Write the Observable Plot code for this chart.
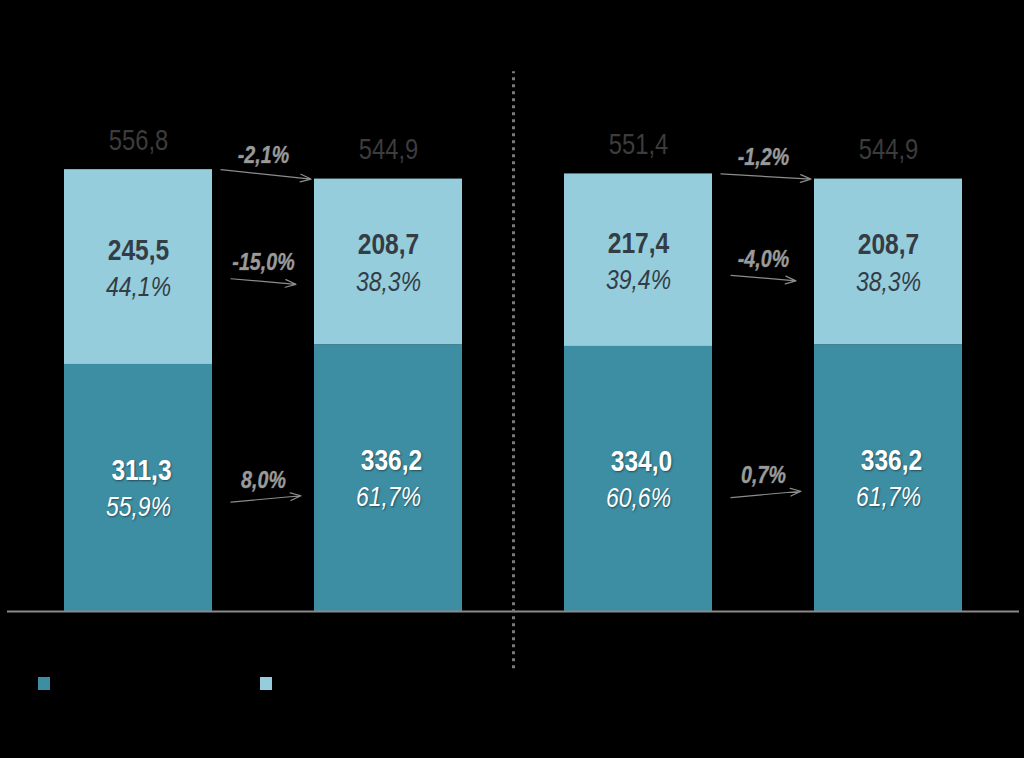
<!DOCTYPE html>
<html>
<head>
<meta charset="utf-8">
<script src="https://cdn.jsdelivr.net/npm/d3@7"></script>
<script src="https://cdn.jsdelivr.net/npm/@observablehq/plot@0.6"></script>
<style>
  html, body { margin: 0; padding: 0; background: #000; }
  #wrap { position: relative; width: 1024px; height: 758px; overflow: hidden; }
  .sw { position: absolute; width: 12px; height: 13px; top: 677px; }
</style>
</head>
<body>
<div id="wrap"></div>
<script>
// ---- data ----
const categories = ["A", "B", "C", "D"];
const lowerValues = [311.3, 336.2, 334.0, 336.2];
const upperValues = [245.5, 208.7, 217.4, 208.7];
const totals = [556.8, 544.9, 551.4, 544.9];
const lowerLabels = ["311,3", "336,2", "334,0", "336,2"];
const upperLabels = ["245,5", "208,7", "217,4", "208,7"];
const lowerPctLabels = ["55,9%", "61,7%", "60,6%", "61,7%"];
const upperPctLabels = ["44,1%", "38,3%", "39,4%", "38,3%"];
const totalLabels = ["556,8", "544,9", "551,4", "544,9"];
// changes between pairs (0->1, 2->3)
const pairs = [[0, 1], [2, 3]];
const totalChange = ["-2,1%", "-1,2%"];
const upperChange = ["-15,0%", "-4,0%"];
const lowerChange = ["8,0%", "0,7%"];

const darkColor = "#3d8da3";
const lightColor = "#95cddd";
const font = "'Liberation Sans', Arial, sans-serif";

const idx = categories.map((c, i) => i);
const half = 0.296;

const segments = [];
idx.forEach(i => {
  segments.push({i, y1: 0, y2: lowerValues[i], part: "lower"});
  segments.push({i, y1: lowerValues[i], y2: lowerValues[i] + upperValues[i], part: "upper"});
});

const lowerMid = i => lowerValues[i] / 2;
const upperMid = i => lowerValues[i] + upperValues[i] / 2;

const arrows = [];
pairs.forEach(([a, b], k) => {
  arrows.push({x1: a + 0.33, x2: b - 0.31, y1: totals[a], y2: totals[b], label: totalChange[k], lx: a + 0.5});
  const um = (upperMid(a) + upperMid(b)) / 2 - 21;
  arrows.push({x1: a + 0.37, x2: b - 0.37, y1: um + 3, y2: um - 4, label: upperChange[k], lx: a + 0.5});
  const lm = (lowerMid(a) + lowerMid(b)) / 2 - 20;
  arrows.push({x1: a + 0.37, x2: b - 0.35, y1: lm - 4, y2: lm + 4, label: lowerChange[k], lx: a + 0.5});
});
arrows.forEach(d => { d.ly = (d.y1 + d.y2) / 2; });

const chart = Plot.plot({
  width: 1024,
  height: 758,
  marginLeft: 13,
  marginRight: 11,
  marginTop: 55.5,
  marginBottom: 147,
  style: {background: "#000", fontFamily: font, overflow: "visible"},
  x: {domain: [-0.5, 3.5], axis: null},
  y: {domain: [0, 700], axis: null},
  marks: [
    Plot.rect(segments, {
      x1: d => d.i - half, x2: d => d.i + half, y1: "y1", y2: "y2",
      fill: d => d.part === "lower" ? darkColor : lightColor
    }),
    Plot.ruleY([0], {stroke: "#8a8a8a", strokeWidth: 2, insetLeft: -6, insetRight: -6}),
    Plot.ruleX([1.5], {y1: -72, y2: 680, stroke: "#7a7a7a", strokeWidth: 3, strokeDasharray: "3,4"}),
    // totals
    Plot.text(idx, {x: i => i, y: i => totals[i], text: i => totalLabels[i], dy: -29,
      fill: "#3c3c3c", fontSize: 29}),
    // upper segment labels
    Plot.text(idx, {x: i => i, y: i => upperMid(i), text: i => upperLabels[i], dy: -17,
      fill: "#343c44", fontSize: 30, fontWeight: "bold"}),
    Plot.text(idx, {x: i => i, y: i => upperMid(i), text: i => upperPctLabels[i], dy: 20,
      fill: "#343c44", fontSize: 28, fontStyle: "italic"}),
    // lower segment labels
    Plot.text(idx, {x: i => i, y: i => lowerMid(i), text: i => lowerLabels[i], dy: -18,
      fill: "#fff", fontSize: 30, fontWeight: "bold", dx: 3}),
    Plot.text(idx, {x: i => i, y: i => lowerMid(i), text: i => lowerPctLabels[i], dy: 19,
      fill: "#fff", fontSize: 28, fontStyle: "italic"}),
    // change arrows
    Plot.arrow(arrows, {x1: "x1", y1: "y1", x2: "x2", y2: "y2", stroke: "#8c8c8c",
      strokeWidth: 1.2, headLength: 14, headAngle: 40}),
    Plot.text(arrows, {x: "lx", y: "ly", text: "label", dy: -19, fill: "#9a9a9a",
      stroke: "#5a5a5a", strokeWidth: 0.6, fontSize: 24, fontWeight: "bold", fontStyle: "italic"})
  ]
});

const wrap = document.getElementById("wrap");
wrap.appendChild(chart);
chart.style.position = "absolute";
chart.style.left = "0";
chart.style.top = "0";

// condense text horizontally (narrow typeface look)
const sx = 0.82;
chart.querySelectorAll("text").forEach(t => {
  const xa = t.getAttribute("x");
  const x = xa && !/[a-z%]/i.test(xa) ? parseFloat(xa) : 0;
  const prev = t.getAttribute("transform") || "";
  t.setAttribute("transform", `${prev} translate(${x},0) scale(${sx},1) translate(${-x},0)`.trim());
});
// subtle shadow on white labels
chart.querySelectorAll("g[fill='#fff'] text, text[fill='#fff']").forEach(t => {
  t.style.textShadow = "1px 1px 2px rgba(0,0,0,0.45)";
});

// legend swatches
[[darkColor, 38], [lightColor, 260]].forEach(([c, left]) => {
  const s = document.createElement("div");
  s.className = "sw";
  s.style.background = c;
  s.style.left = left + "px";
  wrap.appendChild(s);
});
</script>
</body>
</html>
